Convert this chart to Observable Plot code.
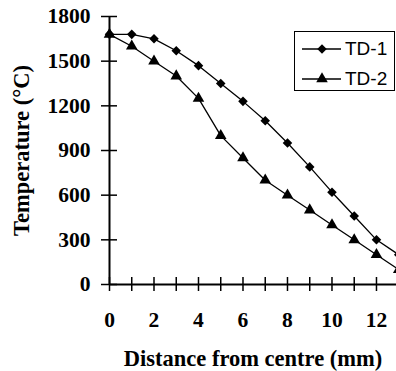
<!DOCTYPE html>
<html><head><meta charset="utf-8">
<script src="https://cdn.jsdelivr.net/npm/d3@7"></script>
<script src="https://cdn.jsdelivr.net/npm/@observablehq/plot@0.6"></script>
<style>
body{margin:0;background:#fff;}
#wrap{position:relative;width:396px;height:371px;overflow:hidden;background:#fff;}
#legend{position:absolute;left:294px;top:31px;width:101px;height:60px;border:1.5px solid #000;box-sizing:border-box;background:#fff;font-family:"Liberation Sans",Arial,sans-serif;font-size:19px;color:#000;}
.row{position:absolute;left:0;width:100%;height:24px;}
.row svg{position:absolute;left:7px;top:0;}
.row span{position:absolute;left:50px;top:1px;line-height:22px;}
</style>
</head><body>
<div id="wrap"><div id="legend"></div></div>
<script>
const distance = [0,1,2,3,4,5,6,7,8,9,10,11,12,13];
const td1 = [1680,1680,1650,1570,1470,1350,1230,1100,950,790,620,460,300,200];
const td2 = [1680,1600,1500,1400,1250,1000,850,700,600,500,400,300,200,100];
const seriesNames = ["TD-1","TD-2"];
const symbols = ["diamond2","triangle"];
const xTicks = [0,1,2,3,4,5,6,7,8,9,10,11,12];
const xLabels = [0,2,4,6,8,10,12];
const yTicks = [0,300,600,900,1200,1500,1800];
const xTitle = "Distance from centre (mm)";
const yTitle = "Temperature (°C)";

const rows = [];
distance.forEach((d,i)=>{
  rows.push({distance:d, temp:td1[i], series:seriesNames[0]});
});
distance.forEach((d,i)=>{
  rows.push({distance:d, temp:td2[i], series:seriesNames[1]});
});

const chart = Plot.plot({
  width: 396, height: 371,
  marginLeft: 109, marginRight: 0, marginTop: 16, marginBottom: 87,
  style: {fontFamily: '"Liberation Serif","Times New Roman",serif', fontSize: "21px", fontWeight: "bold", color: "#000", background: "#fff"},
  x: {domain: [0, 12.9]},
  y: {domain: [0, 1800]},
  symbol: {domain: seriesNames, range: symbols},
  marks: [
    Plot.axisX(xTicks, {tickSize: 14, dy: -7, tickFormat: () => "", label: null, strokeWidth: 1.5}),
    Plot.axisX(xLabels, {tickSize: 0, tickPadding: 27, tickFormat: d => String(d), label: null, fontSize: 21.5, fontWeight: "bold"}),
    Plot.axisX({ticks: [], tickSize: 0, label: xTitle, labelAnchor: "center", labelArrow: "none", labelOffset: 81, fontSize: 22.5, fontWeight: "bold"}),
    Plot.axisY(yTicks, {tickSize: 16, dx: 8, tickFormat: () => "", label: null, strokeWidth: 1.5}),
    Plot.axisY(yTicks, {tickSize: 0, tickPadding: 19, tickFormat: d => String(d), label: null, fontSize: 21.5, fontWeight: "bold"}),
    Plot.axisY({ticks: [], tickSize: 0, label: yTitle, labelAnchor: "center", labelArrow: "none", labelOffset: 96, fontSize: 22.5, fontWeight: "bold"}),
    Plot.ruleY([0], {strokeWidth: 2}),
    Plot.ruleX([0], {strokeWidth: 2}),
    Plot.line(rows, {x: "distance", y: "temp", z: "series", stroke: "#000", strokeWidth: 1.3}),
    Plot.dot(rows, {x: "distance", y: "temp", symbol: "series", fill: "#000", r: 4.3})
  ]
});
document.getElementById("wrap").prepend(chart);

// legend
const legend = d3.select("#legend");
const symFns = {diamond2: d3.symbolDiamond2, triangle: d3.symbolTriangle};
seriesNames.forEach((name, i) => {
  const row = legend.append("div").attr("class","row").style("top", (i === 0 ? 5 : 35) + "px");
  const svg = row.append("svg").attr("width", 40).attr("height", 24);
  svg.append("line").attr("x1", 0).attr("x2", 39).attr("y1", 12).attr("y2", 12).attr("stroke", "#000").attr("stroke-width", 1.5);
  svg.append("path").attr("transform", "translate(20,12)").attr("d", d3.symbol(symFns[symbols[i]], Math.PI * 4.3 * 4.3)()).attr("fill", "#000");
  row.append("span").text(name);
});
</script>
</body></html>
